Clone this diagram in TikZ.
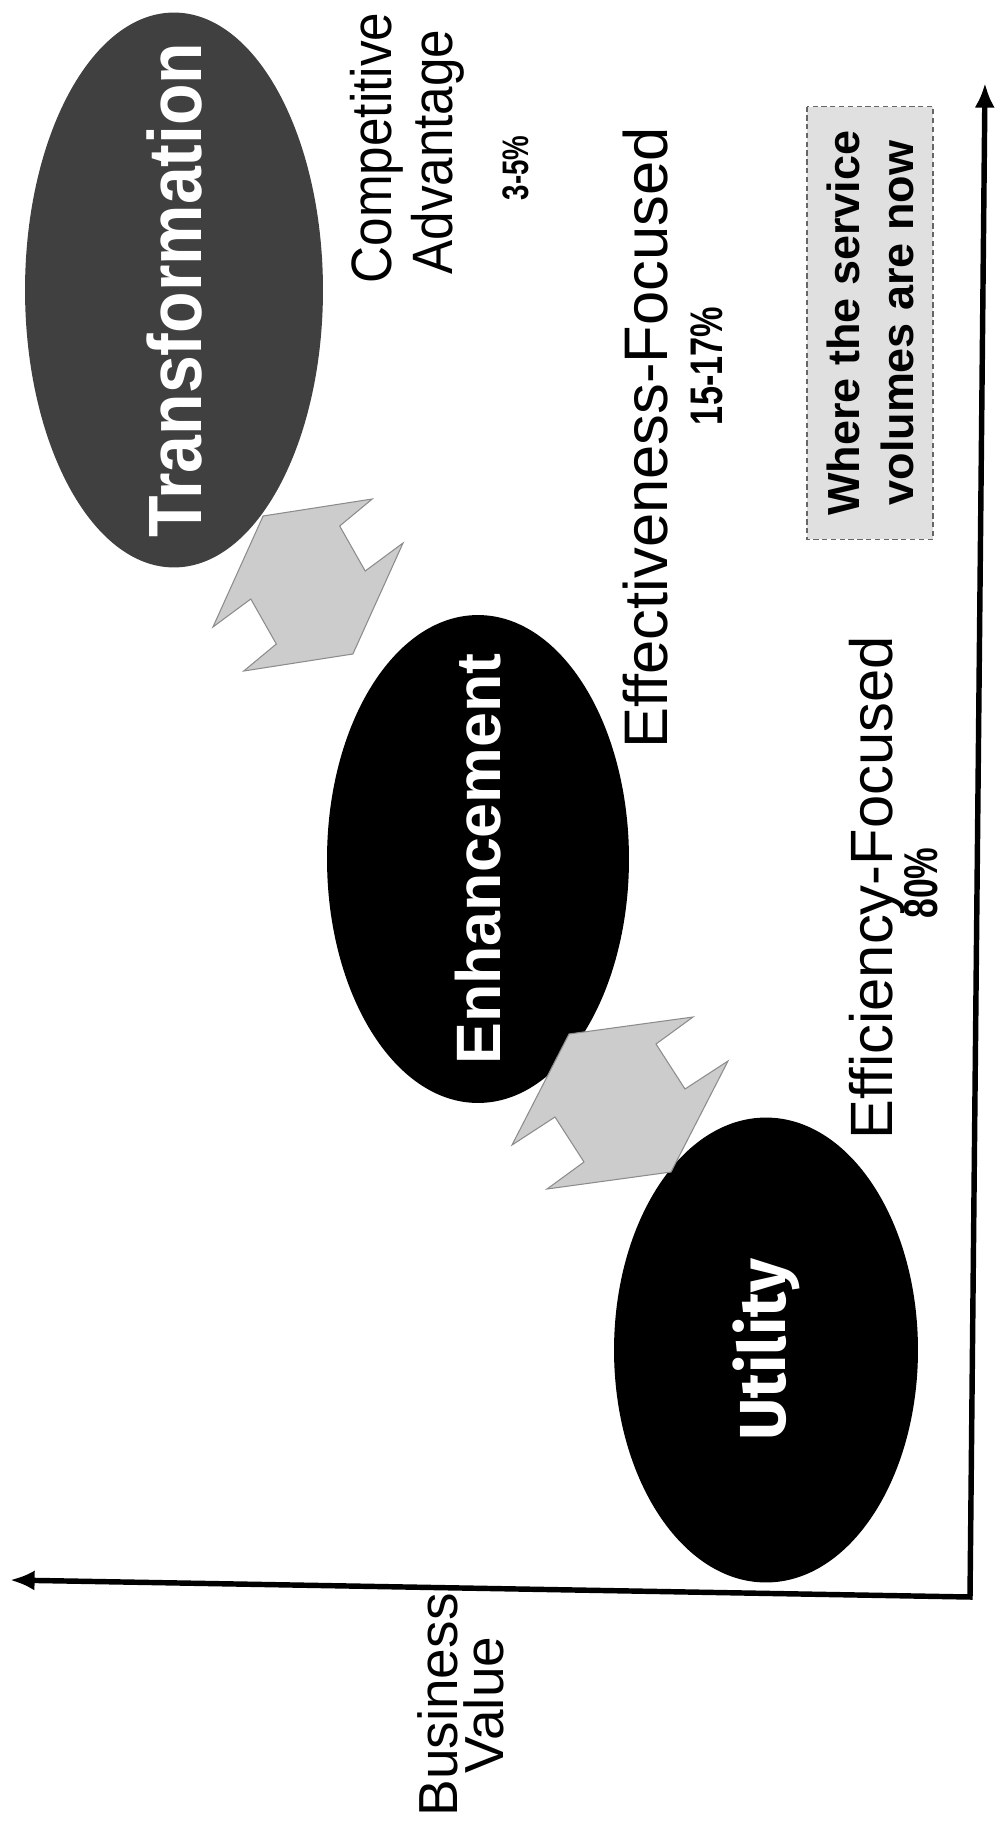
\documentclass[tikz,border=0pt]{standalone}
\usepackage{fontspec}
\setmainfont{Liberation Sans}
\newfontfamily\condfont[FakeStretch=0.9]{Liberation Sans}
\newfontfamily\narrowfont[FakeStretch=0.75]{Liberation Sans}
\newfontfamily\utilfont{Fira Sans}
\usetikzlibrary{arrows.meta, shapes.geometric}

\begin{document}
\begin{tikzpicture}[x=0.02cm, y=-0.02cm]
    \tikzstyle{axis_line} = [draw, line width=3.1pt, line join=miter, {Latex[length=14pt, width=11.5pt]}-{Latex[length=14pt, width=11.5pt]}]
    \tikzstyle{stage} = [ellipse, fill=black, text=white, rotate=90, inner sep=0pt, outer sep=0pt]
    \tikzstyle{tier_label} = [rotate=90, inner sep=0pt, font=\fontsize{32.4}{37}\selectfont]
    \tikzstyle{share_label} = [rotate=90, inner sep=0pt, font=\narrowfont\bfseries\fontsize{26}{30}\selectfont]
    \tikzstyle{swap_arrows} = [fill=black!20, draw=black!45, line width=0.6pt, line join=miter]
    \tikzstyle{volume_box} = [rectangle, rotate=90, fill=black!12, draw=black!60, densely dashed, line width=0.6pt, align=center, inner sep=0pt]

    \useasboundingbox (0,0) rectangle (994,1821);

    % the three service stages
    \node [stage, fill=black!75, minimum width=11.1cm, minimum height=5.96cm, font=\condfont\bfseries\fontsize{43}{48}\selectfont] (transformation) at (174,290) {\makebox[0pt]{Transformation}};
    \node [stage, minimum width=9.76cm, minimum height=6.04cm, font=\bfseries\fontsize{35.7}{40}\selectfont] (enhancement) at (478,859) {\makebox[0pt]{Enhancement}};
    \node [stage, minimum width=9.3cm, minimum height=6.08cm, font=\utilfont\bfseries\fontsize{37}{42}\selectfont] (utility) at (766,1350) {\makebox[0pt]{Utility}};

    % gray swap arrows between the stages
    \begin{scope}[shift={(308,585)}, xscale=0.88]
        \path [swap_arrows] (-108,42) -- (-51,-69) -- (73,-86) -- (36,-59) -- (65,-14) -- (108,-42) -- (51,69) -- (-73,86) -- (-36,59) -- (-65,14) -- cycle;
    \end{scope}
    \begin{scope}[shift={(620,1103)}]
        \path [swap_arrows] (-108,42) -- (-51,-69) -- (73,-86) -- (36,-59) -- (65,-14) -- (108,-42) -- (51,69) -- (-73,86) -- (-36,59) -- (-65,14) -- cycle;
    \end{scope}

    % labels
    \node [tier_label, font=\condfont\fontsize{32.4}{37}\selectfont] (competitive) at (377,148) {Competitive};
    \node [tier_label, font=\condfont\fontsize{32.4}{37}\selectfont] (advantage) at (438,152) {Advantage};
    \node [share_label, font=\narrowfont\bfseries\fontsize{21}{25}\selectfont] (comp_share) at (516,168) {3-5\%};
    \node [tier_label, font=\fontsize{35}{40}\selectfont] (effectiveness) at (646,438) {Effectiveness-Focused};
    \node [share_label] (eff_share) at (707,366) {15-17\%};
    \node [tier_label, font=\fontsize{34}{39}\selectfont] (efficiency) at (877,888) {Efficiency-Focused};
    \node [share_label, font=\narrowfont\bfseries\fontsize{27}{31}\selectfont] (util_share) at (921,883) {80\%};
    \node [tier_label, align=center, font=\fontsize{31.3}{26}\selectfont] (business) at (461,1705) {Business\\Value};

    \node [volume_box, minimum width=8.66cm, minimum height=2.52cm, font=\bfseries\fontsize{25.6}{30.7}\selectfont] (volumes) at (870,323) {Where the service\\volumes are now};

    % axes
    \coordinate (origin) at (970,1597);
    \coordinate (value_end) at (10,1580);
    \coordinate (volume_end) at (985,83);
    \path [axis_line] (value_end) -- (origin) -- (volume_end);
\end{tikzpicture}
\end{document}
